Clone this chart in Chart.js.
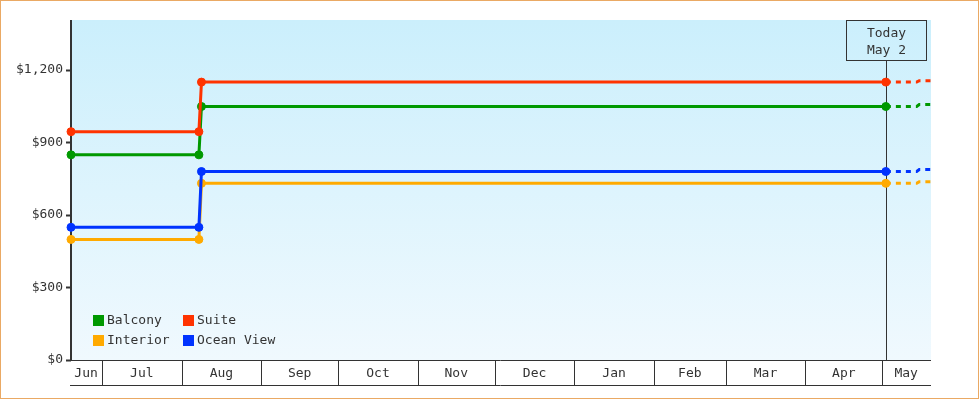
<!DOCTYPE html>
<html><head><meta charset="utf-8">
<script src="https://cdn.jsdelivr.net/npm/chart.js@4"></script>
<style>
html,body{margin:0;padding:0;background:#fff;}
#c{position:absolute;left:0;top:0;}
#frame{position:absolute;left:0;top:0;width:977px;height:397px;border:1px solid #eaa964;pointer-events:none;}
</style></head><body>
<canvas id="c" width="980" height="400"></canvas>
<div id="frame"></div>
<script>
// ---- data ----
const categories = ['Balcony', 'Suite', 'Interior', 'Ocean View'];
const seriesColors = ['#009900', '#ff3300', '#ffaa00', '#0033ff'];
const priceDates = ['2024-06-18T12:00', '2024-08-07T08:00', '2024-08-08T08:00', '2025-05-02T00:00'];
const balcony   = [849, 849, 1049, 1049];
const suite     = [945, 945, 1150, 1150];
const interior  = [499, 499, 731, 731];
const oceanView = [549, 549, 780, 780];
const forecastDates = ['2025-05-02T00:00', '2025-05-14T00:00', '2025-05-15T00:00', '2025-05-22T00:00'];
const balconyForecast   = [1049, 1049, 1057, 1057];
const suiteForecast     = [1150, 1150, 1156, 1156];
const interiorForecast  = [731, 731, 738, 738];
const oceanViewForecast = [780, 780, 788, 788];
const monthLabels = ['Jun','Jul','Aug','Sep','Oct','Nov','Dec','Jan','Feb','Mar','Apr','May'];
const monthStarts = ['2024-06-01T00:00','2024-07-01T00:00','2024-08-01T00:00','2024-09-01T00:00','2024-10-01T00:00','2024-11-01T00:00','2024-12-01T00:00','2025-01-01T00:00','2025-02-01T00:00','2025-03-01T00:00','2025-04-01T00:00','2025-05-01T00:00'];
const xStart = '2024-06-18T12:00';
const xEnd = '2025-05-19T14:00';
const yTicks = [0, 300, 600, 900, 1200];
const yMax = 1407;
const todayDate = '2025-05-02T00:00';
const todayLabel = ['Today', 'May 2'];

// ---- helpers ----
const day = s => Date.parse(s + 'Z') / 86400000;
const pts = (dates, vals) => dates.map((d, i) => ({x: day(d), y: vals[i]}));
const FAMILY = '"DejaVu Sans Mono", "Liberation Mono", monospace';
const FONT = '13px ' + FAMILY;
const INK = '#333';

const mainSeries = [balcony, suite, interior, oceanView];
const fcSeries = [balconyForecast, suiteForecast, interiorForecast, oceanViewForecast];
const topOrder = [1, 0, 1, 0];

const datasets = [];
categories.forEach((name, i) => {
  datasets.push({
    label: name, data: pts(priceDates, mainSeries[i]),
    borderColor: seriesColors[i], backgroundColor: seriesColors[i],
    pointBackgroundColor: seriesColors[i], pointBorderColor: seriesColors[i], pointBorderWidth: 1,
    pointRadius: 4, borderWidth: 3, tension: 0, order: topOrder[i],
    clip: {left: 10, top: 10, right: 10, bottom: 10}
  });
  datasets.push({
    label: name + ' forecast', data: pts(forecastDates, fcSeries[i]),
    borderColor: seriesColors[i], borderDash: [5, 5], borderWidth: 3,
    pointRadius: 0, tension: 0, order: 2, clip: 0
  });
});

const bgPlugin = {
  id: 'bg',
  beforeDraw(chart) {
    const {ctx, chartArea: a} = chart;
    const g = ctx.createLinearGradient(0, a.top, 0, a.bottom);
    g.addColorStop(0, '#cbeffc');
    g.addColorStop(1, '#f0f9fe');
    ctx.save(); ctx.fillStyle = g;
    ctx.fillRect(a.left, a.top, a.right - a.left, a.bottom - a.top);
    ctx.restore();
  }
};

const todayPlugin = {
  id: 'today',
  beforeDatasetsDraw(chart) {
    const {ctx, chartArea: a, scales: {x}} = chart;
    // y axis line
    ctx.save();
    ctx.fillStyle = INK;
    ctx.fillRect(Math.round(a.left) - 1, Math.round(a.top), 2, Math.round(a.bottom - a.top) + 1);
    const px = Math.round(x.getPixelForValue(day(todayDate))) + 0.5;
    const bw = 80, bh = 40, top = a.top + 0.5;
    ctx.strokeStyle = INK; ctx.lineWidth = 1;
    ctx.beginPath(); ctx.moveTo(px, top + bh); ctx.lineTo(px, a.bottom); ctx.stroke();
    ctx.strokeRect(px - bw / 2, top, bw, bh);
    ctx.fillStyle = INK; ctx.font = FONT; ctx.textAlign = 'center'; ctx.textBaseline = 'middle';
    ctx.fillText(todayLabel[0], px, top + 13);
    ctx.fillText(todayLabel[1], px, top + 30);
    ctx.restore();
  }
};

const axisPlugin = {
  id: 'monthAxis',
  afterDraw(chart) {
    const {ctx, chartArea: a, scales: {x}} = chart;
    const lo = day(xStart), hi = day(xEnd);
    const L = a.left - 1, R = a.right;
    const y0 = Math.round(a.bottom) + 0.5, y1 = y0 + 25;
    ctx.save();
    ctx.strokeStyle = INK; ctx.lineWidth = 1;
    ctx.beginPath();
    ctx.moveTo(L, y0); ctx.lineTo(R, y0);
    ctx.moveTo(L, y1); ctx.lineTo(R, y1);
    monthStarts.forEach(s => {
      const v = day(s);
      if (v > lo && v < hi) {
        const p = Math.round(x.getPixelForValue(v)) - 0.5;
        ctx.moveTo(p, y0); ctx.lineTo(p, y1);
      }
    });
    ctx.stroke();
    ctx.fillStyle = INK; ctx.font = FONT; ctx.textAlign = 'center'; ctx.textBaseline = 'middle';
    monthLabels.forEach((m, i) => {
      const s = Math.max(day(monthStarts[i]), lo);
      const e = Math.min(i + 1 < monthStarts.length ? day(monthStarts[i + 1]) : hi, hi);
      const c = (x.getPixelForValue(s) + x.getPixelForValue(e)) / 2 - 1;
      ctx.fillText(m, c, y0 + 13);
    });
    ctx.restore();
  }
};

const legendPlugin = {
  id: 'innerLegend',
  afterDatasetsDraw(chart) {
    const {ctx, chartArea: a} = chart;
    const x0 = a.left + 22, y0 = a.bottom - 45;
    ctx.save();
    ctx.font = FONT; ctx.textBaseline = 'middle'; ctx.textAlign = 'left';
    categories.forEach((name, i) => {
      const col = i % 2, row = Math.floor(i / 2);
      const bx = x0 + col * 90, by = y0 + row * 20;
      ctx.fillStyle = seriesColors[i];
      ctx.fillRect(bx, by, 11, 11);
      ctx.fillStyle = INK;
      ctx.fillText(name, bx + 14, by + 6);
    });
    ctx.restore();
  }
};

new Chart(document.getElementById('c'), {
  type: 'line',
  data: {datasets},
  options: {
    responsive: false, animation: false, devicePixelRatio: 1,
    layout: {padding: {left: 0, top: 20, right: 49, bottom: 40}},
    plugins: {legend: {display: false}, tooltip: {enabled: false}},
    events: [],
    scales: {
      x: {type: 'linear', min: day(xStart), max: day(xEnd), display: false},
      y: {
        min: 0, max: yMax, position: 'left',
        afterBuildTicks: s => { s.ticks = yTicks.map(v => ({value: v})); },
        afterFit: s => { s.width = 71; },
        grid: {drawOnChartArea: false, drawTicks: true, tickLength: 5, tickWidth: 2, tickColor: INK},
        border: {display: false},
        ticks: {
          color: INK, padding: 3,
          font: {family: FAMILY, size: 13},
          callback: v => '$' + Number(v).toLocaleString('en-US')
        }
      }
    }
  },
  plugins: [bgPlugin, todayPlugin, axisPlugin, legendPlugin]
});
</script>
</body></html>
